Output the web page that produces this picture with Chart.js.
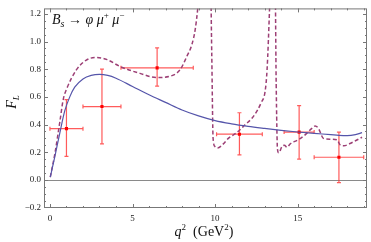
<!DOCTYPE html>
<html>
<head>
<meta charset="utf-8">
<script src="https://cdn.jsdelivr.net/npm/chart.js@4/dist/chart.umd.min.js"></script>
<style>
  html, body { margin: 0; padding: 0; background: #fff; }
  canvas { display: block; }
</style>
</head>
<body>
<canvas id="flChart" width="371" height="242"></canvas>
<script>
// SM prediction (solid)
const smQ2 = [0.02, 0.3, 0.6, 0.9, 1.2, 1.5, 2.0, 2.5, 3.0, 3.5, 4.0, 5.0, 6.0, 7.0, 8.0, 9.0, 10.0, 11.0, 12.0, 13.0, 14.0, 15.0, 16.0, 17.0, 17.5, 18.0, 18.5, 18.9];
const smFL = [0.02, 0.17, 0.34, 0.50, 0.60, 0.67, 0.73, 0.755, 0.762, 0.755, 0.735, 0.675, 0.615, 0.56, 0.505, 0.462, 0.428, 0.405, 0.387, 0.372, 0.358, 0.346, 0.336, 0.327, 0.322, 0.32, 0.327, 0.341];

// with resonances (dashed)
const resQ2 = [0.02, 0.3, 0.6, 0.81, 1.0, 1.6, 2.2, 2.8, 3.43, 4.24, 5.45, 6.46, 7.27, 7.88, 8.28, 8.6, 8.8, 8.95, 9.2, 9.7, 9.8, 9.88, 10.0, 10.15, 10.5, 10.8, 11.3, 11.8, 12.3, 12.8, 13.03, 13.15, 13.3, 13.4, 13.62, 13.7, 13.78, 13.86, 14.05, 14.2, 14.35, 14.55, 15.05, 15.45, 15.86, 16.06, 16.26, 16.56, 16.97, 17.37, 17.6, 17.8, 18.3, 18.9];
const resFL = [0.02, 0.19, 0.42, 0.584, 0.654, 0.795, 0.866, 0.885, 0.871, 0.82, 0.77, 0.74, 0.749, 0.796, 0.89, 0.98, 1.09, 1.24, 1.6, 1.6, 0.9, 0.3, 0.24, 0.23, 0.26, 0.3, 0.34, 0.396, 0.455, 0.56, 0.64, 0.8, 1.24, 1.6, 1.6, 0.7, 0.22, 0.195, 0.24, 0.25, 0.235, 0.26, 0.29, 0.325, 0.372, 0.389, 0.372, 0.30, 0.294, 0.29, 0.25, 0.247, 0.27, 0.308];

// measurements
const binCenter = [1.0, 3.15, 6.49, 11.475, 15.09, 17.5];
const binLow = [0.0, 2.0, 4.3, 10.09, 14.18, 16.0];
const binHigh = [2.0, 4.3, 8.68, 12.86, 16.0, 19.0];
const measFL = [0.37, 0.53, 0.81, 0.33, 0.345, 0.163];
const measLow = [0.17, 0.26, 0.678, 0.181, 0.15, -0.02];
const measHigh = [0.58, 0.80, 0.955, 0.485, 0.537, 0.345];

const xTicks = [0, 5, 10, 15];
const yTicks = [-0.2, 0.0, 0.2, 0.4, 0.6, 0.8, 1.0, 1.2];

const serif = '"Liberation Serif", "DejaVu Serif", serif';

function drawRich(ctx, x, y, parts, align) {
    let total = 0;
    parts.forEach(p => { ctx.font = p.font; total += ctx.measureText(p.t).width; });
    let cx = align === 'center' ? x - total / 2 : x;
    parts.forEach(p => {
        ctx.font = p.font;
        ctx.fillText(p.t, cx, y + (p.dy || 0));
        cx += ctx.measureText(p.t).width;
    });
}

const framePlugin = {
    id: 'framePlugin',
    beforeDatasetsDraw(chart) {
        const { ctx, chartArea: a, scales: { x, y } } = chart;
        ctx.save();
        // zero line
        ctx.strokeStyle = '#8a8a8a';
        ctx.lineWidth = 1;
        const y0 = Math.round(y.getPixelForValue(0)) + 0.5;
        ctx.beginPath();
        ctx.moveTo(a.left, y0);
        ctx.lineTo(a.right, y0);
        ctx.stroke();

        // error bars
        ctx.strokeStyle = 'rgba(255, 50, 50, 0.8)';
        ctx.lineWidth = 1.2;
        for (let i = 0; i < binCenter.length; i++) {
            const px = x.getPixelForValue(binCenter[i]);
            const py = y.getPixelForValue(measFL[i]);
            const xl = x.getPixelForValue(binLow[i]);
            const xh = x.getPixelForValue(binHigh[i]);
            const yl = y.getPixelForValue(measLow[i]);
            const yh = y.getPixelForValue(measHigh[i]);
            ctx.beginPath();
            ctx.moveTo(xl, py); ctx.lineTo(xh, py);
            ctx.moveTo(xl, py - 2); ctx.lineTo(xl, py + 2);
            ctx.moveTo(xh, py - 2); ctx.lineTo(xh, py + 2);
            ctx.moveTo(px, yl); ctx.lineTo(px, yh);
            ctx.moveTo(px - 2, yl); ctx.lineTo(px + 2, yl);
            ctx.moveTo(px - 2, yh); ctx.lineTo(px + 2, yh);
            ctx.stroke();
        }
        ctx.restore();
    },
    afterDraw(chart) {
        const { ctx, chartArea: a, scales: { x, y } } = chart;
        ctx.save();
        // frame
        ctx.strokeStyle = '#777';
        ctx.lineWidth = 1;
        ctx.strokeRect(a.left + 0.5, a.top + 0.5, a.right - a.left - 1, a.bottom - a.top - 1);

        // inward ticks
        ctx.beginPath();
        for (let v = 0; v <= 19; v += 1) {
            const px = Math.round(x.getPixelForValue(v)) + 0.5;
            const len = v % 5 === 0 ? 4 : 2;
            ctx.moveTo(px, a.bottom); ctx.lineTo(px, a.bottom - len);
            ctx.moveTo(px, a.top); ctx.lineTo(px, a.top + len);
        }
        for (let k = -4; k <= 24; k++) {
            const v = k * 0.05;
            const py = Math.round(y.getPixelForValue(v)) + 0.5;
            const len = k % 4 === 0 ? 4 : 2;
            ctx.moveTo(a.left, py); ctx.lineTo(a.left + len, py);
            ctx.moveTo(a.right, py); ctx.lineTo(a.right - len, py);
        }
        ctx.stroke();

        // titles
        ctx.fillStyle = '#111';
        ctx.textBaseline = 'alphabetic';
        drawRich(ctx, 52, 24, [
            { t: 'B', font: 'italic 14px ' + serif },
            { t: 's', font: 'italic 10px ' + serif, dy: 3 },
            { t: ' \u2192 ', font: '14px ' + serif },
            { t: '\u03C6', font: 'italic 14px ' + serif },
            { t: ' \u03BC', font: 'italic 14px ' + serif },
            { t: '+', font: '9px ' + serif, dy: -6 },
            { t: ' \u03BC', font: 'italic 14px ' + serif },
            { t: '\u2212', font: '9px ' + serif, dy: -6 }
        ]);

        drawRich(ctx, 204, 236, [
            { t: 'q', font: 'italic 14px ' + serif },
            { t: '2', font: '9px ' + serif, dy: -6 },
            { t: '  (GeV', font: '14px ' + serif },
            { t: '2', font: '9px ' + serif, dy: -6 },
            { t: ')', font: '14px ' + serif }
        ], 'center');

        ctx.translate(16, 102);
        ctx.rotate(-Math.PI / 2);
        drawRich(ctx, 0, 0, [
            { t: 'F', font: 'italic 14px ' + serif },
            { t: 'L', font: 'italic 9px ' + serif, dy: 3 }
        ], 'center');
        ctx.restore();
    }
};

const pts = (xs, ys) => xs.map((v, i) => ({ x: v, y: ys[i] }));

new Chart(document.getElementById('flChart').getContext('2d'), {
    type: 'line',
    data: {
        datasets: [
            {
                label: 'SM',
                data: pts(smQ2, smFL),
                borderColor: '#5555aa',
                borderWidth: 1.2,
                pointRadius: 0,
                cubicInterpolationMode: 'monotone',
                fill: false
            },
            {
                label: 'with resonances',
                data: pts(resQ2, resFL),
                borderColor: '#9c3f75',
                borderWidth: 1.5,
                borderDash: [4, 2.5],
                pointRadius: 0,
                cubicInterpolationMode: 'monotone',
                fill: false
            },
            {
                type: 'scatter',
                label: 'LHCb',
                data: pts(binCenter, measFL),
                pointStyle: 'rect',
                pointRadius: 2.2,
                backgroundColor: '#ff0000',
                borderColor: '#ff0000',
                borderWidth: 0
            }
        ]
    },
    options: {
        responsive: false,
        animation: false,
        events: [],
        layout: { padding: { top: 3, right: 4, left: 0, bottom: 0 } },
        plugins: { legend: { display: false }, tooltip: { enabled: false } },
        scales: {
            x: {
                type: 'linear',
                min: -0.36,
                max: 19.2,
                grid: { display: false, drawTicks: false },
                border: { display: false },
                afterBuildTicks: s => { s.ticks = xTicks.map(v => ({ value: v })); },
                afterFit: s => { s.height = 34; },
                ticks: {
                    padding: 5,
                    color: '#222',
                    font: { family: serif, size: 9 },
                    maxRotation: 0,
                    callback: v => String(v)
                }
            },
            y: {
                min: -0.204,
                max: 1.24,
                grid: { display: false, drawTicks: false },
                border: { display: false },
                afterBuildTicks: s => { s.ticks = yTicks.map(v => ({ value: v })); },
                afterFit: s => { s.width = 44; },
                ticks: {
                    padding: 3,
                    color: '#222',
                    font: { family: serif, size: 9 },
                    callback: v => v.toFixed(1).replace('-', '\u2212')
                }
            }
        }
    },
    plugins: [framePlugin]
});
</script>
</body>
</html>
